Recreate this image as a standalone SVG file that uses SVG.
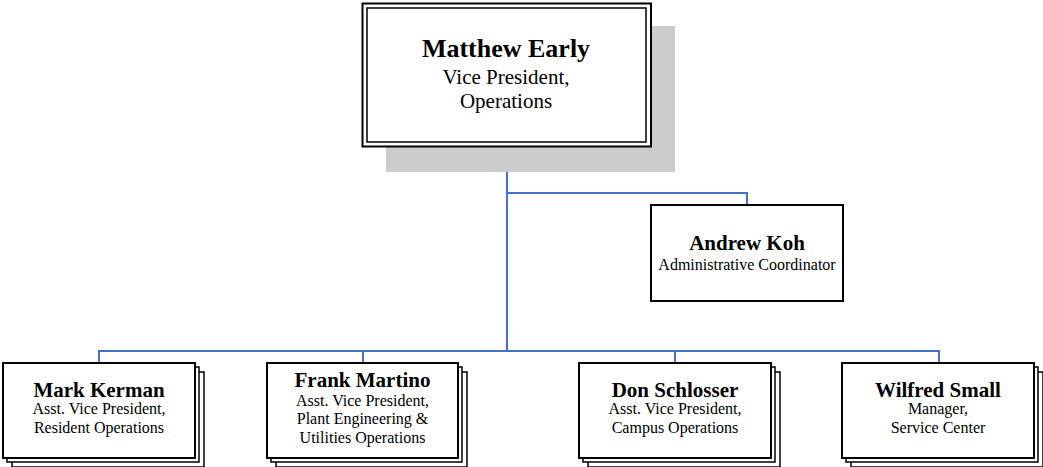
<svg xmlns="http://www.w3.org/2000/svg" width="1043" height="467" viewBox="0 0 1043 467">
<style>
.bg{fill:#ffffff}
.conn{fill:none;stroke:#4472C4;stroke-width:2}
.box{fill:#ffffff;stroke:#000000;stroke-width:2}
.layer{fill:#ffffff;stroke:#000000;stroke-width:1.5}
.shadow{fill:#cccccc}
.name{font-family:"Liberation Serif","Times New Roman",serif;font-weight:bold;fill:#000;text-anchor:middle}
.title{font-family:"Liberation Serif","Times New Roman",serif;fill:#000;text-anchor:middle}
</style>
<rect class="bg" x="0" y="0" width="1043" height="467"/>
<g id="connectors">
<path class="conn" d="M507,147 V351"/>
<path class="conn" d="M507,193 H747 V205"/>
<path class="conn" d="M99,363 V351 H939 V363"/>
<path class="conn" d="M363,351 V363"/>
<path class="conn" d="M675,351 V363"/>
</g>
<g id="node-matthew-early">
<rect class="shadow" x="386" y="26" width="289" height="146"/>
<rect class="box" x="362.5" y="3.5" width="288.5" height="143" stroke-width="2.5"/>
<rect fill="none" stroke="#000" stroke-width="1.5" x="367" y="8" width="279" height="134"/>
<text class="name" x="506" y="57" font-size="26">Matthew Early</text>
<text class="title" x="506" y="84" font-size="21">Vice President,</text>
<text class="title" x="506" y="108" font-size="21">Operations</text>
</g>
<g id="node-andrew-koh">
<rect class="box" x="651" y="205" width="192" height="96"/>
<text class="name" x="747" y="250" font-size="21">Andrew Koh</text>
<text class="title" x="747" y="270" font-size="16">Administrative Coordinator</text>
</g>
<g id="node-mark-kerman">
<rect class="layer" x="12" y="372" width="192" height="95"/>
<rect class="layer" x="7" y="367" width="192" height="95"/>
<rect class="box" x="3" y="363" width="192" height="95"/>
<text class="name" x="99" y="397" font-size="21">Mark Kerman</text>
<text class="title" x="99" y="414" font-size="16">Asst. Vice President,</text>
<text class="title" x="99" y="433" font-size="16">Resident Operations</text>
</g>
<g id="node-frank-martino">
<rect class="layer" x="276" y="372" width="191" height="95"/>
<rect class="layer" x="271" y="367" width="191" height="95"/>
<rect class="box" x="267" y="363" width="191" height="95"/>
<text class="name" x="362.5" y="387" font-size="21">Frank Martino</text>
<text class="title" x="362.5" y="406" font-size="16">Asst. Vice President,</text>
<text class="title" x="362.5" y="424" font-size="16">Plant Engineering &amp;</text>
<text class="title" x="362.5" y="443" font-size="16">Utilities Operations</text>
</g>
<g id="node-don-schlosser">
<rect class="layer" x="588" y="372" width="192" height="95"/>
<rect class="layer" x="583" y="367" width="192" height="95"/>
<rect class="box" x="579" y="363" width="192" height="95"/>
<text class="name" x="675" y="397" font-size="21">Don Schlosser</text>
<text class="title" x="675" y="414" font-size="16">Asst. Vice President,</text>
<text class="title" x="675" y="433" font-size="16">Campus Operations</text>
</g>
<g id="node-wilfred-small">
<rect class="layer" x="851" y="372" width="192" height="95"/>
<rect class="layer" x="846" y="367" width="192" height="95"/>
<rect class="box" x="842" y="363" width="192" height="95"/>
<text class="name" x="938" y="397" font-size="21">Wilfred Small</text>
<text class="title" x="938" y="414" font-size="16">Manager,</text>
<text class="title" x="938" y="433" font-size="16">Service Center</text>
</g>
</svg>
